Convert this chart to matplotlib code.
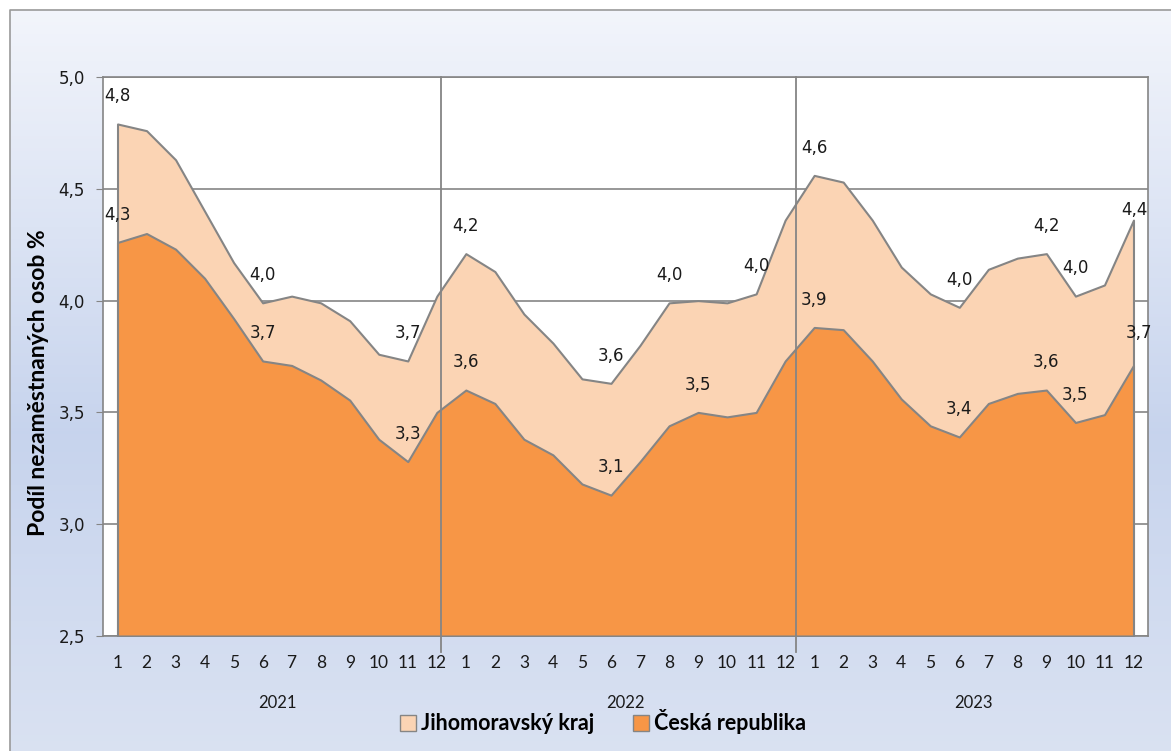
import numpy as np
import matplotlib.pyplot as plt
from matplotlib.patches import Patch
from matplotlib.ticker import FuncFormatter

# data - podil nezamestnanych osob (%)
roky = ['2021', '2022', '2023']
mesice = [str(m) for m in range(1, 13)] * 3
jmk = [4.79, 4.76, 4.63, 4.40, 4.17, 3.99, 4.02, 3.99, 3.91, 3.76, 3.73, 4.02,
       4.21, 4.13, 3.94, 3.81, 3.65, 3.63, 3.80, 3.99, 4.00, 3.99, 4.03, 4.36,
       4.56, 4.53, 4.36, 4.15, 4.03, 3.97, 4.14, 4.19, 4.21, 4.02, 4.07, 4.36]
cr = [4.26, 4.30, 4.23, 4.10, 3.92, 3.73, 3.71, 3.645, 3.555, 3.38, 3.28, 3.50,
      3.60, 3.54, 3.38, 3.31, 3.18, 3.13, 3.28, 3.44, 3.50, 3.48, 3.50, 3.73,
      3.88, 3.87, 3.73, 3.56, 3.44, 3.39, 3.54, 3.585, 3.60, 3.455, 3.49, 3.71]
# mesice s popiskem hodnoty
popisky_jmk = [0, 5, 10, 12, 17, 19, 22, 24, 29, 32, 33, 35]
popisky_cr = [0, 5, 10, 12, 17, 20, 24, 29, 32, 33, 35]

x = np.arange(len(jmk))
barva_jmk = '#FBD4B4'
barva_cr = '#F79646'
seda = '#858585'

fig = plt.figure(figsize=(11.71, 7.51), dpi=100)

# pozadi s prechodem
bg = fig.add_axes([0, 0, 1, 1], zorder=-5)
grad = np.linspace(0, 1, 256)
c_top = np.array([0.95, 0.96, 0.985])
c_mid = np.array([0.78, 0.83, 0.93])
c_bot = np.array([0.86, 0.89, 0.95])
cols = np.where(grad[:, None] < 0.55,
                c_top + (c_mid - c_top) * (grad[:, None] / 0.55),
                c_mid + (c_bot - c_mid) * ((grad[:, None] - 0.55) / 0.45))
img = np.repeat(cols[:, None, :], 2, axis=1)
bg.imshow(img, aspect='auto', extent=[10, 1200, 780, 10])
bg.plot([10, 10, 1200], [780, 10, 10], color='#9A9A9A', lw=1.2)
bg.set_xlim(0, 1171)
bg.set_ylim(751, 0)
bg.axis('off')

ax = fig.add_axes([103 / 1171, 1 - 636 / 751, 1045 / 1171, 559 / 751])
ax.set_facecolor('white')

ax.fill_between(x, 2.5, jmk, facecolor=barva_jmk, edgecolor=seda, lw=1.5, zorder=2)
ax.fill_between(x, 2.5, cr, facecolor=barva_cr, edgecolor=seda, lw=1.5, zorder=3)

ax.set_xlim(-0.5, len(x) - 0.5)
ax.set_ylim(2.5, 5.0)
ax.set_yticks(np.arange(2.5, 5.01, 0.5))
ax.yaxis.set_major_formatter(FuncFormatter(lambda v, p: f'{v:.1f}'.replace('.', ',')))
ax.grid(axis='y', color=seda, lw=1.2, zorder=0)
ax.set_axisbelow(True)
for s in ax.spines.values():
    s.set_color(seda)
    s.set_linewidth(1.2)
ax.tick_params(axis='y', length=5, color=seda, pad=8, labelsize=12, labelcolor='#1a1a1a')
ax.tick_params(axis='x', length=0, pad=14)
ax.set_xticks(x)
ax.set_xticklabels(mesice, fontfamily='Lato', fontsize=12.5, color='#1a1a1a')

# oddeleni roku
for pos in [11.13, 23.36]:
    ax.axvline(pos, ymin=-0.028, ymax=1, color=seda, lw=1.3, zorder=5, clip_on=False)

for i, r in enumerate(roky):
    ax.text(i * 12 + 5.5, -0.12, r, transform=ax.get_xaxis_transform(),
            ha='center', va='center', fontfamily='Lato', fontsize=12, color='#1a1a1a')

ax.set_ylabel('Podíl nezaměstnaných osob %', fontfamily='Lato', fontsize=16.5,
              fontweight='bold')
ax.yaxis.set_label_coords(-0.052, 0.454)

# popisky hodnot
def popis(data, idx):
    for i in idx:
        dx, dy = 0, 20
        if i == len(data) - 1:
            dx, dy = (1, 7) if data is jmk else (4, 23)
        ax.annotate(f'{data[i]:.1f}'.replace('.', ','), (x[i], data[i]),
                    xytext=(dx, dy), textcoords='offset points', ha='center',
                    va='center', fontsize=12, color='#1a1a1a', zorder=6,
                    annotation_clip=False)

popis(jmk, popisky_jmk)
popis(cr, popisky_cr)

handles = [Patch(facecolor=barva_jmk, edgecolor=seda, label='Jihomoravský kraj'),
           Patch(facecolor=barva_cr, edgecolor=seda, label='Česká republika')]
fig.legend(handles=handles, loc='center', bbox_to_anchor=(603 / 1171, 1 - 722 / 751),
           ncol=2, frameon=False, handlelength=0.75, handleheight=0.75,
           handletextpad=0.25, columnspacing=1.8,
           prop={'family': 'Lato', 'weight': 'bold', 'size': 15.5})

fig.savefig('out.png', dpi=100)
